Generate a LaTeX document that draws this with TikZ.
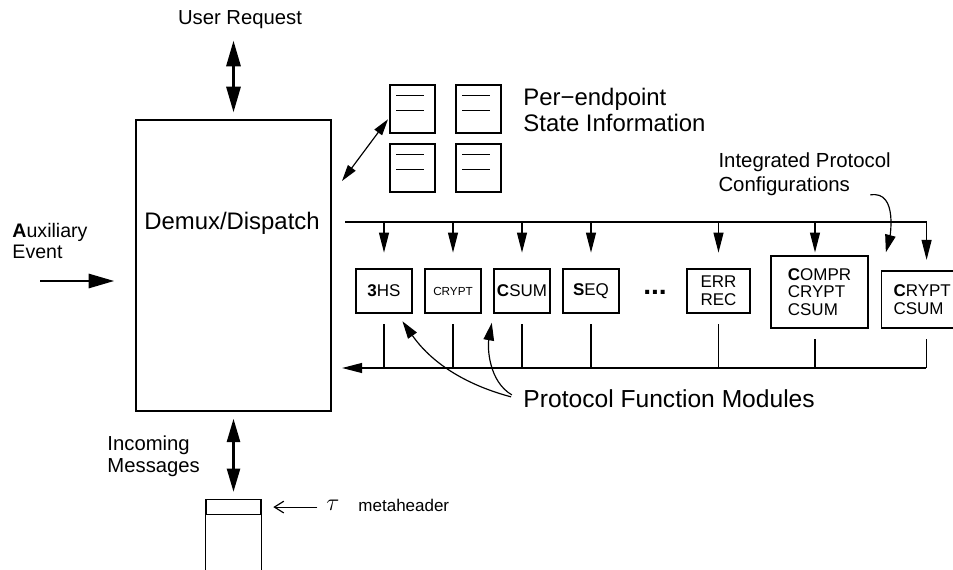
\documentclass[tikz,border=0pt]{standalone}
\usepackage{fontspec}
\setmainfont{Liberation Sans}
\usetikzlibrary{arrows.meta,positioning}
\newcommand\pxu{0.03cm}
\tikzset{
    module box/.style={
        draw,line width=1pt,
        inner sep=2pt,
        minimum width=56*\pxu,minimum height=44*\pxu,
        font=\fontsize{14.5}{15.5}\selectfont
    },
    state box/.style={
        draw,line width=1pt,
        minimum width=45*\pxu,minimum height=48*\pxu
    },
    bus arrow/.style={-{Triangle[length=17pt,width=8.5pt]}},
    thin arrow/.style={{Triangle[length=14pt,width=8pt]}-{Triangle[length=14pt,width=8pt]}},
    fat arrow/.style={line width=2.5pt,{Triangle[length=22pt,width=12pt]}-{Triangle[length=22pt,width=12pt]}},
    curve arrow/.style={-{Triangle[length=15pt,width=9pt]}},
}

\begin{document}
\begin{tikzpicture}[x=0.03cm,y=-0.03cm,line width=1pt]
\useasboundingbox (0,0) rectangle (953,570);

% dispatcher
\node[draw,minimum width=195*\pxu,minimum height=291*\pxu] (demux) at (233.5,265.5) {};
\node[font=\fontsize{20.4}{24}\selectfont] (demuxlbl) at (232,223) {Demux/Dispatch};

\node[font=\fontsize{17.3}{20}\selectfont] (user) at (240,20) {User Request};
\draw[fat arrow,shorten <=6pt,shorten >=6pt] (user.south -| demux.north) -- (demux.north);

\node[font=\fontsize{16.7}{18.7}\selectfont,align=left,anchor=west] (aux) at (8,241) {\textbf{A}uxiliary\\Event};
\coordinate (auxin) at (40,281);
\draw[line width=2.5pt,-{Triangle[length=22pt,width=12pt]},shorten >=18pt] (auxin) -- (auxin -| demux.west);

% incoming message
\node[draw,minimum width=55*\pxu,minimum height=15*\pxu,anchor=north] (mhdr) at (233.5,499) {};
\draw (mhdr.south west) -- ++(0,72);
\draw (mhdr.south east) -- ++(0,72);
\node[font=\fontsize{17.3}{18.7}\selectfont,align=left,anchor=west] (incoming) at (103,456) {Incoming\\Messages};
\draw[fat arrow,{Triangle[length=20pt,width=11pt]}-{Triangle[length=20pt,width=11pt]},shorten <=6pt,shorten >=6pt] (demux.south) -- (mhdr.north);

\node[font=\fontsize{21}{22}\selectfont] (tau) at (333,505) {$\tau$};
\node[font=\fontsize{14.5}{16}\selectfont,anchor=west] (meta) at (354,505) {metaheader};
\draw[-{Straight Barb[length=8pt,width=10pt]},shorten <=4pt,shorten >=10pt] (tau.west |- mhdr.east) -- (mhdr.east);

% per-endpoint state
\foreach \i/\x/\y in {1/412.5/109,2/478.5/109,3/412.5/168,4/478.5/168}{
    \node[state box] (st\i) at (\x,\y) {};
    \draw (st\i.north west) ++(7,11) -- ++(28,0);
    \draw (st\i.north west) ++(7,26) -- ++(28,0);
}
\node[font=\fontsize{20.4}{22}\selectfont,align=left,anchor=west] (stlbl) at (519,110) {Per−endpoint\\State Information};
\coordinate (stateport) at (342,181);
\draw[thin arrow,shorten >=2pt] (stateport) -- (st1.-160);

% protocol modules
\foreach \nm/\x/\txt in {m3hs/384/{\textbf{3}HS},mcrypt/453/{\fontsize{10}{12}\selectfont CRYPT},mcsum/522/{\textbf{C}SUM},mseq/591/{\textbf{S}EQ}}
    \node[module box] (\nm) at (\x,291) {\txt};
\node[font=\bfseries\fontsize{24}{24}\selectfont] (mdots) at (655,292) {...};
\node[module box,minimum width=63*\pxu,align=center] (merr) at (718.5,291) {ERR\\REC};
\node[module box,minimum width=97*\pxu,minimum height=72*\pxu,align=left,font=\fontsize{14.5}{15}\selectfont] (mcompr) at (819.5,292) {\textbf{C}OMPR\\CRYPT\\CSUM};
\node[module box,anchor=west,minimum height=57*\pxu,inner xsep=12*\pxu,text width=66*\pxu,align=left,font=\fontsize{14.5}{15}\selectfont] (mcc) at (881,299.5) {\textbf{C}RYPT\\CSUM};

% dispatch bus
\coordinate (busL) at (345,222);
\draw[bus arrow,shorten >=9pt] (busL) -| (mcc.north);
\foreach \nm in {m3hs,mcrypt,mcsum,mseq,merr}
    \draw[bus arrow,shorten >=13.5pt] (\nm.north |- busL) -- (\nm.north);
\draw[bus arrow,shorten >=2.5pt] ([xshift=-4.5*\pxu]mcompr.north |- busL) -- ([xshift=-4.5*\pxu]mcompr.north);

% return bus
\coordinate (retR) at (926,368);
\draw[bus arrow,shorten >=9pt] (retR) -- (retR -| demux.east);
\foreach \nm in {m3hs,mcrypt,mcsum,mseq,merr,mcc}
    \draw[shorten <=9pt] (\nm.south) -- (\nm.south |- retR);
\draw[shorten <=9pt] ([xshift=-4.5*\pxu]mcompr.south) -- ([xshift=-4.5*\pxu]mcompr.south |- retR);

% labels
\node[font=\fontsize{21}{24}\selectfont,anchor=west] (pfm) at (519,399) {Protocol Function Modules};
\draw[curve arrow,shorten <=7pt,shorten >=8pt] (pfm.west) to[out=165,in=-55] (m3hs.-60);
\draw[curve arrow,shorten <=7pt,shorten >=8pt] (pfm.west) to[out=150,in=-100] (mcsum.south west);

\node[font=\fontsize{17.4}{20.4}\selectfont,align=left,anchor=west] (ipc) at (714,174) {Integrated Protocol\\Configurations};
\coordinate (cfgtail) at ([shift={(-25,-5)}]ipc.south east);
\draw[curve arrow,shorten >=16pt] (cfgtail) to[out=10,in=75] (mcc.north west);
\end{tikzpicture}
\end{document}
